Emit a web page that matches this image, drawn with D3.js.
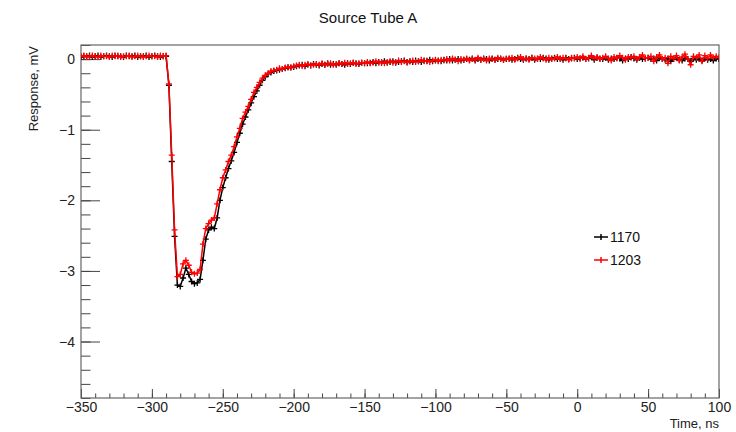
<!DOCTYPE html>
<html>
<head>
<meta charset="utf-8">
<script src="https://cdn.jsdelivr.net/npm/d3@7"></script>
<style>
  body { margin: 0; background: #fff; }
  svg { font-family: "Liberation Sans", Arial, sans-serif; }
</style>
</head>
<body>
<svg id="chart" width="736" height="432"></svg>
<script>
// sample grid, ns
const tStart = -350, tEnd = 100, tStep = 2;

const red1203Base = [0.04,0.05,0.03,0.04,0.05,0.04,0.03,0.05,0.04,0.04,0.03,0.05,0.04,0.05,0.03,0.04,0.04,0.05,0.03,0.04,0.05,0.04,0.03,0.04,0.05,0.04,0.04,0.03,0.05,0.04,0.05];
const red1203Pulse = [-0.35,-1.36,-2.42,-3.08,-3.05,-2.90,-2.85,-2.92,-3.02,-3.04,-3.03,-2.98,-2.62,-2.40,-2.33,-2.28,-2.25,-2.05,-1.85,-1.68,-1.57,-1.45,-1.36,-1.24,-1.10,-0.98,-0.84,-0.75,-0.67,-0.57,-0.47,-0.40,-0.33,-0.27,-0.23,-0.20,-0.17,-0.16,-0.15,-0.13,-0.14,-0.12,-0.11,-0.12,-0.10];
const red1203Tail = [
  -0.09,-0.08,-0.10,-0.08,-0.07,-0.09,-0.08,-0.07,-0.08,-0.06,-0.08,-0.07,-0.06,-0.08,-0.07,-0.06,-0.07,-0.05,-0.07,-0.06,-0.05,-0.07,-0.06,-0.05,-0.06,
  -0.04,-0.06,-0.05,-0.03,-0.05,-0.04,-0.06,-0.04,-0.03,-0.05,-0.04,-0.02,-0.04,-0.03,-0.05,-0.03,-0.02,-0.04,-0.03,-0.01,-0.03,-0.02,-0.04,-0.02,-0.01,
  -0.03,-0.01,-0.02,0.00,-0.02,0.01,-0.01,-0.03,0.00,-0.01,0.01,-0.02,0.00,-0.01,0.02,-0.01,0.00,-0.02,0.01,0.00,-0.01,0.02,0.00,-0.01,0.01,
  0.00,0.02,-0.01,0.01,0.03,0.00,0.01,-0.01,0.02,0.01,0.00,0.03,0.01,-0.01,0.02,0.00,0.01,0.03,0.00,0.02,0.01,-0.01,0.02,0.01,0.03,
  0.01,0.04,0.00,0.02,0.05,0.01,0.03,0.00,0.02,0.04,0.01,-0.02,0.03,0.01,0.05,0.02,-0.01,0.03,0.02,0.04,0.00,0.03,0.06,0.01,0.02,
  0.04,-0.03,0.03,0.06,0.00,0.02,-0.06,0.04,0.01,0.05,-0.02,0.03,0.07,0.00,-0.08,0.04,0.02,0.06,-0.03,0.05,0.01,0.06,0.02,0.04,0.03];

const black1170Base = [0.03,0.04,0.04,0.05,0.03,0.04,0.05,0.03,0.04,0.05,0.04,0.03,0.05,0.04,0.04,0.03,0.05,0.04,0.04,0.05,0.03,0.04,0.04,0.05,0.03,0.04,0.05,0.04,0.03,0.04,0.04];
const black1170Pulse = [-0.37,-1.45,-2.51,-3.20,-3.22,-3.10,-2.96,-3.05,-3.15,-3.18,-3.17,-3.12,-2.85,-2.55,-2.42,-2.38,-2.40,-2.25,-2.00,-1.82,-1.68,-1.55,-1.44,-1.32,-1.18,-1.05,-0.92,-0.82,-0.72,-0.62,-0.53,-0.45,-0.37,-0.30,-0.25,-0.21,-0.19,-0.17,-0.16,-0.15,-0.14,-0.13,-0.12,-0.12,-0.11];
const black1170Tail = [
  -0.10,-0.09,-0.08,-0.10,-0.08,-0.09,-0.07,-0.08,-0.09,-0.07,-0.08,-0.06,-0.08,-0.07,-0.08,-0.06,-0.07,-0.08,-0.06,-0.07,-0.05,-0.06,-0.07,-0.05,-0.06,
  -0.06,-0.05,-0.04,-0.06,-0.04,-0.05,-0.03,-0.05,-0.04,-0.03,-0.05,-0.04,-0.03,-0.02,-0.04,-0.03,-0.04,-0.02,-0.03,-0.04,-0.02,-0.03,-0.01,-0.03,-0.02,
  -0.02,-0.03,-0.01,-0.02,0.00,-0.02,-0.01,0.00,-0.02,-0.01,0.00,-0.01,0.01,-0.02,0.00,-0.01,0.01,0.00,-0.02,0.01,-0.01,0.00,0.01,-0.01,0.00,
  0.01,-0.01,0.00,0.02,0.00,-0.01,0.01,0.00,0.02,-0.01,0.01,0.00,0.02,0.01,-0.01,0.01,0.02,0.00,0.01,-0.01,0.02,0.00,0.01,0.02,0.00,
  0.01,0.02,0.00,0.01,0.03,-0.01,0.02,0.01,0.00,0.02,-0.01,0.01,0.00,0.02,0.01,-0.02,0.01,0.00,0.03,0.01,-0.01,0.02,0.00,0.01,0.02,
  0.00,0.01,-0.02,0.02,0.00,-0.01,0.01,-0.03,0.00,0.02,-0.01,-0.02,0.01,0.00,-0.03,0.01,-0.01,0.00,-0.02,0.01,-0.01,0.00,-0.02,0.01,0.00];

const seriesNames = ["1170", "1203"];
const seriesColors = ["#000000", "#ff0000"];

const xTicks = [-350, -300, -250, -200, -150, -100, -50, 0, 50, 100];
const yTicks = [0, -1, -2, -3, -4];

const time = d3.range(tStart, tEnd + 1, tStep);
const series = [
  black1170Base.concat(black1170Pulse, black1170Tail),
  red1203Base.concat(red1203Pulse, red1203Tail)
].map((vals, i) => ({
  name: seriesNames[i],
  color: seriesColors[i],
  points: vals.map((v, j) => ({ t: time[j], v: v }))
}));

const frame = { left: 81, right: 719, top: 45, bottom: 398 };

const x = d3.scaleLinear().domain([-350, 100]).range([frame.left, frame.right]);
const y = d3.scaleLinear().domain([-4.8, 0.2]).range([frame.bottom, frame.top]);

const svg = d3.select("#chart");
const axisColor = "#444";
const minus = d => d < 0 ? "\u2212" + Math.abs(d) : d;

svg.append("clipPath").attr("id", "plotClip")
  .append("rect")
  .attr("x", frame.left).attr("y", frame.top)
  .attr("width", frame.right - frame.left).attr("height", frame.bottom - frame.top);

// minor + major ticks, drawn inward like ROOT
const xMinor = svg.append("g")
  .attr("transform", `translate(0,${frame.bottom})`)
  .call(d3.axisBottom(x).tickValues(d3.range(-350, 101, 10)).tickSize(-4.5).tickFormat(""));
const xMajor = svg.append("g")
  .attr("transform", `translate(0,${frame.bottom})`)
  .call(d3.axisBottom(x).tickValues(xTicks).tickSize(-9).tickPadding(4).tickFormat(minus));

const yMinor = svg.append("g")
  .attr("transform", `translate(${frame.left},0)`)
  .call(d3.axisLeft(y).tickValues(d3.range(-48, 3, 2).map(d => d / 10)).tickSize(-9.5).tickFormat(""));
const yMajor = svg.append("g")
  .attr("transform", `translate(${frame.left},0)`)
  .call(d3.axisLeft(y).tickValues(yTicks).tickSize(-19).tickPadding(6).tickFormat(minus));

[xMinor, xMajor, yMinor, yMajor].forEach(g => {
  g.select(".domain").remove();
  g.selectAll("line").attr("stroke", axisColor).attr("stroke-width", 1);
  g.selectAll("text").attr("fill", "#222").style("font-size", "14px");
});

svg.append("rect")
  .attr("x", frame.left).attr("y", frame.top)
  .attr("width", frame.right - frame.left).attr("height", frame.bottom - frame.top)
  .attr("fill", "none").attr("stroke", "#666").attr("stroke-width", 1.2);

// data
const line = d3.line().x(d => x(d.t)).y(d => y(d.v));
const plot = svg.append("g").attr("clip-path", "url(#plotClip)");

series.forEach(s => {
  const g = plot.append("g");
  g.append("path")
    .datum(s.points)
    .attr("d", line)
    .attr("fill", "none")
    .attr("stroke", s.color)
    .attr("stroke-width", 1.5);
  g.selectAll("path.mk")
    .data(s.points)
    .enter()
    .append("path")
    .attr("class", "mk")
    .attr("d", d => `M${x(d.t) - 3},${y(d.v)}h6M${x(d.t)},${y(d.v) - 3}v6`)
    .attr("stroke", s.color)
    .attr("stroke-width", 1.3);
});

// title and axis labels
svg.append("text")
  .attr("x", 368).attr("y", 23)
  .attr("text-anchor", "middle")
  .style("font-size", "15px")
  .attr("fill", "#111")
  .text("Source Tube A");

svg.append("text")
  .attr("transform", "translate(38,46) rotate(-90)")
  .attr("text-anchor", "end")
  .style("font-size", "13px")
  .attr("fill", "#222")
  .text("Response, mV");

svg.append("text")
  .attr("x", frame.right).attr("y", 428)
  .attr("text-anchor", "end")
  .style("font-size", "13px")
  .attr("fill", "#222")
  .text("Time, ns");

// legend
const legend = svg.append("g").attr("transform", "translate(594,237)");
series.forEach((s, i) => {
  const row = legend.append("g").attr("transform", `translate(0,${i * 23})`);
  row.append("path")
    .attr("d", "M0,0h14M7,-3v6")
    .attr("stroke", s.color)
    .attr("stroke-width", 1.5);
  row.append("text")
    .attr("x", 16).attr("y", 5)
    .style("font-size", "14px")
    .attr("fill", "#111")
    .text(s.name);
});
</script>
</body>
</html>
